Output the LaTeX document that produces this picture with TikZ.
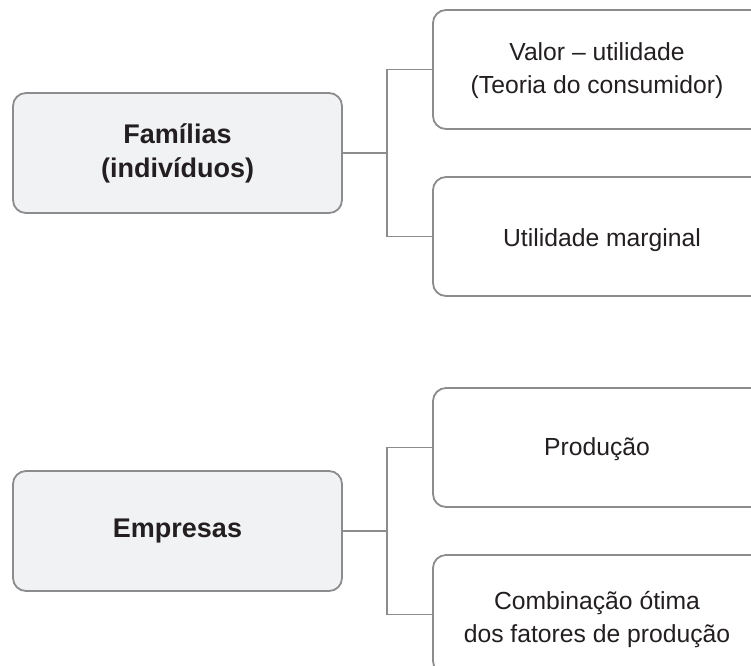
\documentclass[tikz,border=0pt]{standalone}
\usepackage{fontspec}
\setmainfont{Liberation Sans}
\definecolor{edge}{HTML}{8C8C8E}
\definecolor{lfill}{HTML}{F1F2F4}
\definecolor{txt}{HTML}{231F20}
\begin{document}
\begin{tikzpicture}[x=1pt,y=-1pt,
  mainbox/.style={draw=edge, line width=1.8pt, rounded corners=13pt, fill=lfill,
    minimum width=329pt, minimum height=120pt, inner sep=0pt, align=center,
    text=txt, font=\fontsize{27}{34}\selectfont\bfseries},
  subbox/.style={draw=edge, line width=1.8pt, rounded corners=13pt, fill=white,
    minimum width=334pt, minimum height=119pt, inner sep=0pt,
    text=txt, font=\fontsize{24.7}{33}\selectfont},
  conn/.style={draw=edge, line width=1.8pt}]
\useasboundingbox (0,0) rectangle (751,665);
\clip (0,0) rectangle (751,665);
\fill[white] (0,0) rectangle (751,665);
% top group
\node[mainbox] (fam) at (177.5,153) {Famílias\\(indivíduos)};
\node[subbox] (val) at (600,69.5) {};
\node[text=txt, font=\fontsize{24.7}{33}\selectfont, align=center] (valt) at (597,71) {Valor – utilidade\\(Teoria do consumidor)};
\node[subbox] (uti) at (600,236.5) {};
\node[text=txt, font=\fontsize{24.7}{33}\selectfont] (utit) at (602,240) {Utilidade marginal};
\coordinate (j1) at (387,153);
\draw[conn] (fam.east) -- (j1);
\draw[conn] (j1) |- (val.west);
\draw[conn] (j1) |- (uti.west);
% bottom group
\node[mainbox] (emp) at (177.5,531) {Empresas};
\node[subbox] (pro) at (600,447.5) {};
\node[text=txt, font=\fontsize{24.7}{33}\selectfont] (prot) at (597,449) {Produção};
\node[subbox] (com) at (600,614.5) {};
\node[text=txt, font=\fontsize{24.7}{33}\selectfont, align=center] (comt) at (597,620) {Combinação ótima\\dos fatores de produção};
\coordinate (j2) at (387,531);
\draw[conn] (emp.east) -- (j2);
\draw[conn] (j2) |- (pro.west);
\draw[conn] (j2) |- (com.west);
\end{tikzpicture}
\end{document}
